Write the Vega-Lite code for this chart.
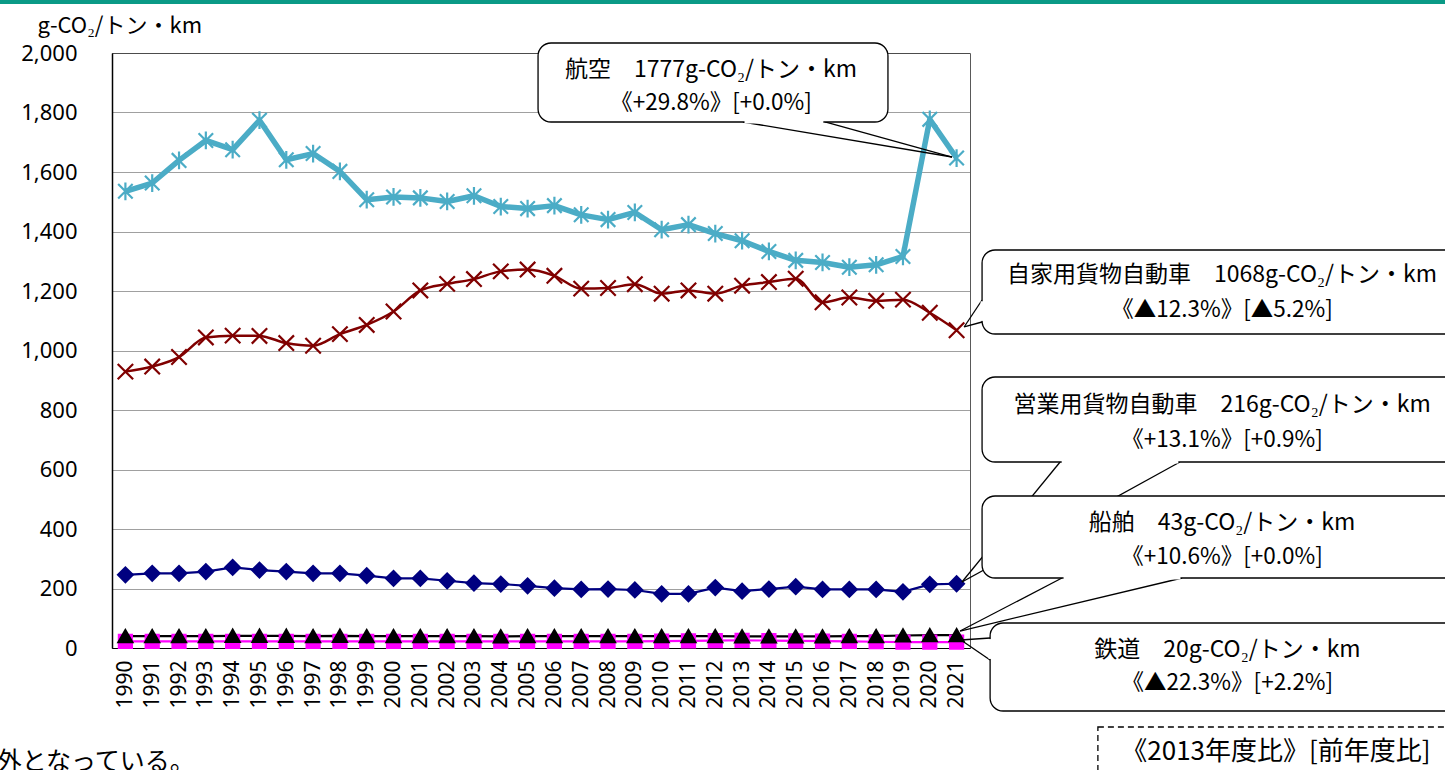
{
  "$schema": "https://vega.github.io/schema/vega-lite/v6.json",
  "width": 858,
  "height": 595,
  "autosize": {"type": "none"},
  "padding": {"left": 112, "top": 53, "right": 475, "bottom": 122},
  "background": "white",
  "config": {
    "view": {"stroke": "#595959", "strokeWidth": 1},
    "font": "Noto Sans CJK JP",
    "axisX": {"labelOverlap": false, "labelAngle": 270, "labelFontSize": 21, "labelFont": "Noto Sans", "labelColor": "black", "labelPadding": 12, "ticks": false, "grid": false, "labelBound": false, "labelFlush": false, "domainColor": "black", "domainWidth": 1.2, "tickCount": 32},
    "axisY": {"labelOverlap": false, "labelFontSize": 22, "labelFont": "Noto Sans", "labelColor": "black", "labelPadding": 35, "ticks": false, "domainColor": "black", "domainWidth": 1.5, "grid": true, "gridColor": "#404040", "gridDash": [1, 1], "gridWidth": 1}
  },
  "datasets": {
    "series": [
      {"year":1990,"mode":"鉄道","value":22},{"year":1991,"mode":"鉄道","value":22},{"year":1992,"mode":"鉄道","value":22},{"year":1993,"mode":"鉄道","value":22},{"year":1994,"mode":"鉄道","value":22},{"year":1995,"mode":"鉄道","value":22},{"year":1996,"mode":"鉄道","value":22},{"year":1997,"mode":"鉄道","value":22},{"year":1998,"mode":"鉄道","value":22},{"year":1999,"mode":"鉄道","value":22},{"year":2000,"mode":"鉄道","value":22},{"year":2001,"mode":"鉄道","value":22},{"year":2002,"mode":"鉄道","value":22},{"year":2003,"mode":"鉄道","value":22},{"year":2004,"mode":"鉄道","value":22},{"year":2005,"mode":"鉄道","value":22},{"year":2006,"mode":"鉄道","value":22},{"year":2007,"mode":"鉄道","value":22},{"year":2008,"mode":"鉄道","value":22},{"year":2009,"mode":"鉄道","value":22},{"year":2010,"mode":"鉄道","value":23},{"year":2011,"mode":"鉄道","value":24},{"year":2012,"mode":"鉄道","value":25},{"year":2013,"mode":"鉄道","value":26},{"year":2014,"mode":"鉄道","value":25},{"year":2015,"mode":"鉄道","value":24},{"year":2016,"mode":"鉄道","value":23},{"year":2017,"mode":"鉄道","value":22},{"year":2018,"mode":"鉄道","value":21},{"year":2019,"mode":"鉄道","value":20},{"year":2020,"mode":"鉄道","value":20},{"year":2021,"mode":"鉄道","value":20},
      {"year":1990,"mode":"船舶","value":40},{"year":1991,"mode":"船舶","value":40},{"year":1992,"mode":"船舶","value":40},{"year":1993,"mode":"船舶","value":40},{"year":1994,"mode":"船舶","value":41},{"year":1995,"mode":"船舶","value":41},{"year":1996,"mode":"船舶","value":41},{"year":1997,"mode":"船舶","value":40},{"year":1998,"mode":"船舶","value":41},{"year":1999,"mode":"船舶","value":40},{"year":2000,"mode":"船舶","value":40},{"year":2001,"mode":"船舶","value":40},{"year":2002,"mode":"船舶","value":40},{"year":2003,"mode":"船舶","value":40},{"year":2004,"mode":"船舶","value":39},{"year":2005,"mode":"船舶","value":40},{"year":2006,"mode":"船舶","value":40},{"year":2007,"mode":"船舶","value":40},{"year":2008,"mode":"船舶","value":40},{"year":2009,"mode":"船舶","value":40},{"year":2010,"mode":"船舶","value":40},{"year":2011,"mode":"船舶","value":40},{"year":2012,"mode":"船舶","value":40},{"year":2013,"mode":"船舶","value":39},{"year":2014,"mode":"船舶","value":39},{"year":2015,"mode":"船舶","value":39},{"year":2016,"mode":"船舶","value":39},{"year":2017,"mode":"船舶","value":40},{"year":2018,"mode":"船舶","value":40},{"year":2019,"mode":"船舶","value":42},{"year":2020,"mode":"船舶","value":43},{"year":2021,"mode":"船舶","value":43},
      {"year":1990,"mode":"営業用貨物自動車","value":246},{"year":1991,"mode":"営業用貨物自動車","value":251},{"year":1992,"mode":"営業用貨物自動車","value":251},{"year":1993,"mode":"営業用貨物自動車","value":257},{"year":1994,"mode":"営業用貨物自動車","value":271},{"year":1995,"mode":"営業用貨物自動車","value":262},{"year":1996,"mode":"営業用貨物自動車","value":257},{"year":1997,"mode":"営業用貨物自動車","value":251},{"year":1998,"mode":"営業用貨物自動車","value":251},{"year":1999,"mode":"営業用貨物自動車","value":243},{"year":2000,"mode":"営業用貨物自動車","value":234},{"year":2001,"mode":"営業用貨物自動車","value":234},{"year":2002,"mode":"営業用貨物自動車","value":226},{"year":2003,"mode":"営業用貨物自動車","value":218},{"year":2004,"mode":"営業用貨物自動車","value":215},{"year":2005,"mode":"営業用貨物自動車","value":209},{"year":2006,"mode":"営業用貨物自動車","value":201},{"year":2007,"mode":"営業用貨物自動車","value":197},{"year":2008,"mode":"営業用貨物自動車","value":198},{"year":2009,"mode":"営業用貨物自動車","value":195},{"year":2010,"mode":"営業用貨物自動車","value":182},{"year":2011,"mode":"営業用貨物自動車","value":182},{"year":2012,"mode":"営業用貨物自動車","value":203},{"year":2013,"mode":"営業用貨物自動車","value":191},{"year":2014,"mode":"営業用貨物自動車","value":198},{"year":2015,"mode":"営業用貨物自動車","value":206},{"year":2016,"mode":"営業用貨物自動車","value":197},{"year":2017,"mode":"営業用貨物自動車","value":197},{"year":2018,"mode":"営業用貨物自動車","value":197},{"year":2019,"mode":"営業用貨物自動車","value":189},{"year":2020,"mode":"営業用貨物自動車","value":214},{"year":2021,"mode":"営業用貨物自動車","value":216},
      {"year":1990,"mode":"自家用貨物自動車","value":929},{"year":1991,"mode":"自家用貨物自動車","value":946},{"year":1992,"mode":"自家用貨物自動車","value":978},{"year":1993,"mode":"自家用貨物自動車","value":1044},{"year":1994,"mode":"自家用貨物自動車","value":1050},{"year":1995,"mode":"自家用貨物自動車","value":1049},{"year":1996,"mode":"自家用貨物自動車","value":1025},{"year":1997,"mode":"自家用貨物自動車","value":1016},{"year":1998,"mode":"自家用貨物自動車","value":1055},{"year":1999,"mode":"自家用貨物自動車","value":1086},{"year":2000,"mode":"自家用貨物自動車","value":1131},{"year":2001,"mode":"自家用貨物自動車","value":1202},{"year":2002,"mode":"自家用貨物自動車","value":1224},{"year":2003,"mode":"自家用貨物自動車","value":1240},{"year":2004,"mode":"自家用貨物自動車","value":1266},{"year":2005,"mode":"自家用貨物自動車","value":1272},{"year":2006,"mode":"自家用貨物自動車","value":1251},{"year":2007,"mode":"自家用貨物自動車","value":1208},{"year":2008,"mode":"自家用貨物自動車","value":1210},{"year":2009,"mode":"自家用貨物自動車","value":1223},{"year":2010,"mode":"自家用貨物自動車","value":1191},{"year":2011,"mode":"自家用貨物自動車","value":1202},{"year":2012,"mode":"自家用貨物自動車","value":1191},{"year":2013,"mode":"自家用貨物自動車","value":1218},{"year":2014,"mode":"自家用貨物自動車","value":1230},{"year":2015,"mode":"自家用貨物自動車","value":1241},{"year":2016,"mode":"自家用貨物自動車","value":1162},{"year":2017,"mode":"自家用貨物自動車","value":1178},{"year":2018,"mode":"自家用貨物自動車","value":1167},{"year":2019,"mode":"自家用貨物自動車","value":1171},{"year":2020,"mode":"自家用貨物自動車","value":1127},{"year":2021,"mode":"自家用貨物自動車","value":1068},
      {"year":1990,"mode":"航空","value":1535},{"year":1991,"mode":"航空","value":1563},{"year":1992,"mode":"航空","value":1639},{"year":1993,"mode":"航空","value":1706},{"year":1994,"mode":"航空","value":1675},{"year":1995,"mode":"航空","value":1774},{"year":1996,"mode":"航空","value":1641},{"year":1997,"mode":"航空","value":1662},{"year":1998,"mode":"航空","value":1602},{"year":1999,"mode":"航空","value":1507},{"year":2000,"mode":"航空","value":1516},{"year":2001,"mode":"航空","value":1513},{"year":2002,"mode":"航空","value":1501},{"year":2003,"mode":"航空","value":1520},{"year":2004,"mode":"航空","value":1484},{"year":2005,"mode":"航空","value":1477},{"year":2006,"mode":"航空","value":1487},{"year":2007,"mode":"航空","value":1456},{"year":2008,"mode":"航空","value":1440},{"year":2009,"mode":"航空","value":1464},{"year":2010,"mode":"航空","value":1406},{"year":2011,"mode":"航空","value":1423},{"year":2012,"mode":"航空","value":1393},{"year":2013,"mode":"航空","value":1369},{"year":2014,"mode":"航空","value":1333},{"year":2015,"mode":"航空","value":1303},{"year":2016,"mode":"航空","value":1296},{"year":2017,"mode":"航空","value":1280},{"year":2018,"mode":"航空","value":1288},{"year":2019,"mode":"航空","value":1316},{"year":2020,"mode":"航空","value":1777},{"year":2021,"mode":"航空","value":1647}
    ],
    "decor": [{"x": 1985, "x2": 2041, "y": 2178.5, "y2": 2164.7}],
    "boxes": [
      {"x": 2005.39, "x2": 2018.44, "y": 2033.6, "y2": 1768.1},
      {"x": 2021.95, "x2": 2039.78, "y": 1337.8, "y2": 1055.5},
      {"x": 2021.95, "x2": 2039.78, "y": 910.9, "y2": 625.2},
      {"x": 2021.95, "x2": 2039.78, "y": 510.9, "y2": 235.3},
      {"x": 2022.25, "x2": 2039.78, "y": 84.0, "y2": -211.8}
    ],
    "tails": [
      {"x": 2013.03, "y": 1768.1, "x2": 2020.83, "y2": 1650.4},
      {"x": 2016.09, "y": 1768.1, "x2": 2020.83, "y2": 1650.4},
      {"x": 2021.95, "y": 1169.7, "x2": 2021.28, "y2": 1079.0},
      {"x": 2021.95, "y": 1095.8, "x2": 2021.28, "y2": 1079.0},
      {"x": 2024.86, "y": 625.2, "x2": 2021.20, "y2": 221.8},
      {"x": 2029.33, "y": 625.2, "x2": 2021.20, "y2": 221.8},
      {"x": 2024.93, "y": 235.3, "x2": 2021.13, "y2": 57.1},
      {"x": 2029.41, "y": 235.3, "x2": 2021.13, "y2": 57.1},
      {"x": 2022.25, "y": 33.6, "x2": 2021.16, "y2": 26.9},
      {"x": 2022.25, "y": -40.3, "x2": 2021.16, "y2": 26.9}
    ],
    "bases": [
      {"x": 2013.09, "y": 1768.1, "x2": 2016.03, "y2": 1768.1},
      {"x": 2021.95, "y": 1165.5, "x2": 2021.95, "y2": 1099.5},
      {"x": 2024.92, "y": 625.2, "x2": 2029.27, "y2": 625.2},
      {"x": 2024.99, "y": 235.3, "x2": 2029.35, "y2": 235.3},
      {"x": 2022.25, "y": 30.0, "x2": 2022.25, "y2": -36.8}
    ],
    "legendbox": [{"x": 2026.27, "x2": 2040, "y": -265.5, "y2": -480}],
    "labels": [
      {"x": 2011.84, "y": 1942.9, "text": "航空　1777g-CO₂/トン・km", "size": 23},
      {"x": 2011.84, "y": 1831.9, "text": "《+29.8%》[+0.0%]", "size": 22.5},
      {"x": 2030.9, "y": 1253.8, "text": "自家用貨物自動車　1068g-CO₂/トン・km", "size": 23},
      {"x": 2030.9, "y": 1136.1, "text": "《▲12.3%》[▲5.2%]", "size": 22.5},
      {"x": 2030.9, "y": 816.8, "text": "営業用貨物自動車　216g-CO₂/トン・km", "size": 23},
      {"x": 2030.9, "y": 699.2, "text": "《+13.1%》[+0.9%]", "size": 22.5},
      {"x": 2030.9, "y": 420.2, "text": "船舶　43g-CO₂/トン・km", "size": 23},
      {"x": 2030.9, "y": 305.9, "text": "《+10.6%》[+0.0%]", "size": 22.5},
      {"x": 2031.1, "y": -6.7, "text": "鉄道　20g-CO₂/トン・km", "size": 23},
      {"x": 2031.1, "y": -117.6, "text": "《▲22.3%》[+2.2%]", "size": 22.5},
      {"x": 2032.91, "y": -349.6, "text": "《2013年度比》[前年度比]", "size": 26}
    ],
    "note": [{"x": 1985.2, "y": -383, "text": "外となっている。"}]
  },
  "layer": [
    {
      "data": {"name": "series"},
      "transform": [{"filter": "datum.mode == '鉄道' || datum.mode == '船舶' || datum.mode == '営業用貨物自動車'"}],
      "mark": {"type": "line", "strokeWidth": 2.2},
      "encoding": {
        "x": {"field": "year", "type": "quantitative", "scale": {"domain": [1989.5, 2021.5], "nice": false, "zero": false},
          "axis": {"values": [1990,1991,1992,1993,1994,1995,1996,1997,1998,1999,2000,2001,2002,2003,2004,2005,2006,2007,2008,2009,2010,2011,2012,2013,2014,2015,2016,2017,2018,2019,2020,2021],
            "tickCount": 32, "labelExpr": "format(datum.value, 'd')", "labelOverlap": false, "title": null}},
        "y": {"field": "value", "type": "quantitative", "scale": {"domain": [0, 2000], "nice": false},
          "axis": {"values": [0,200,400,600,800,1000,1200,1400,1600,1800,2000], "labelExpr": "format(datum.value, ',d')",
            "title": "g-CO₂/トン・km", "titleAngle": 0, "titleAlign": "left", "titleBaseline": "alphabetic", "titleX": -75, "titleY": -21, "titleFontSize": 22, "titleFontWeight": "normal", "titleColor": "black", "titleFont": "Noto Sans CJK JP"}},
        "color": {"field": "mode", "type": "nominal", "legend": null,
          "scale": {"domain": ["鉄道", "船舶", "営業用貨物自動車", "自家用貨物自動車", "航空"], "range": ["#ff00ff", "#000000", "#000080", "#800000", "#4bacc6"]}}
      }
    },
    {
      "data": {"name": "series"},
      "transform": [{"filter": "datum.mode == '自家用貨物自動車'"}],
      "mark": {"type": "line", "interpolate": "monotone", "color": "#800000", "strokeWidth": 2.5},
      "encoding": {
        "x": {"field": "year", "type": "quantitative"},
        "y": {"field": "value", "type": "quantitative"}
      }
    },
    {
      "data": {"name": "series"},
      "transform": [{"filter": "datum.mode == '航空'"}],
      "mark": {"type": "line", "color": "#4bacc6", "strokeWidth": 5.5, "strokeJoin": "round"},
      "encoding": {
        "x": {"field": "year", "type": "quantitative"},
        "y": {"field": "value", "type": "quantitative"}
      }
    },
    {
      "data": {"name": "series"},
      "mark": {"type": "point", "filled": true, "strokeWidth": 2.2, "opacity": 1},
      "encoding": {
        "x": {"field": "year", "type": "quantitative"},
        "y": {"field": "value", "type": "quantitative"},
        "fill": {"field": "mode", "type": "nominal", "legend": null,
          "scale": {"domain": ["鉄道", "船舶", "営業用貨物自動車", "自家用貨物自動車", "航空"], "range": ["#ff00ff", "#000000", "#000080", "#800000", "#4bacc6"]}},
        "stroke": {"field": "mode", "type": "nominal", "legend": null,
          "scale": {"domain": ["鉄道", "船舶", "営業用貨物自動車", "自家用貨物自動車", "航空"], "range": ["#ff00ff", "#000000", "#000080", "#800000", "#4bacc6"]}},
        "shape": {"field": "mode", "type": "nominal", "legend": null,
          "scale": {"domain": ["鉄道", "船舶", "営業用貨物自動車", "自家用貨物自動車", "航空"],
            "range": ["square", "triangle-up", "diamond", "M-1,-1L1,1M-1,1L1,-1", "M0,-1.1L0,1.1M-0.9,-0.9L0.9,0.9M-0.9,0.9L0.9,-0.9"]}},
        "size": {"field": "mode", "type": "nominal", "legend": null,
          "scale": {"domain": ["鉄道", "船舶", "営業用貨物自動車", "自家用貨物自動車", "航空"], "range": [170, 260, 250, 300, 330]}}
      }
    },
    {
      "data": {"name": "decor"},
      "mark": {"type": "rect", "color": "#0a9a86"},
      "encoding": {
        "x": {"field": "x", "type": "quantitative"},
        "x2": {"field": "x2"},
        "y": {"field": "y", "type": "quantitative"},
        "y2": {"field": "y2"}
      }
    },
    {
      "data": {"name": "tails"},
      "mark": {"type": "rule", "color": "black", "strokeWidth": 1.3},
      "encoding": {
        "x": {"field": "x", "type": "quantitative"},
        "y": {"field": "y", "type": "quantitative"},
        "x2": {"field": "x2"},
        "y2": {"field": "y2"}
      }
    },
    {
      "data": {"name": "boxes"},
      "mark": {"type": "rect", "fill": "white", "stroke": "black", "strokeWidth": 1.3, "cornerRadius": 13},
      "encoding": {
        "x": {"field": "x", "type": "quantitative"},
        "x2": {"field": "x2"},
        "y": {"field": "y", "type": "quantitative"},
        "y2": {"field": "y2"}
      }
    },
    {
      "data": {"name": "bases"},
      "mark": {"type": "rule", "color": "white", "strokeWidth": 3},
      "encoding": {
        "x": {"field": "x", "type": "quantitative"},
        "y": {"field": "y", "type": "quantitative"},
        "x2": {"field": "x2"},
        "y2": {"field": "y2"}
      }
    },
    {
      "data": {"name": "legendbox"},
      "mark": {"type": "rect", "fill": "white", "stroke": "black", "strokeWidth": 1.3, "strokeDash": [6, 4]},
      "encoding": {
        "x": {"field": "x", "type": "quantitative"},
        "x2": {"field": "x2"},
        "y": {"field": "y", "type": "quantitative"},
        "y2": {"field": "y2"}
      }
    },
    {
      "data": {"name": "labels"},
      "mark": {"type": "text", "align": "center", "baseline": "middle", "color": "black", "font": "Noto Sans CJK JP"},
      "encoding": {
        "x": {"field": "x", "type": "quantitative"},
        "y": {"field": "y", "type": "quantitative"},
        "text": {"field": "text", "type": "nominal"},
        "size": {"field": "size", "type": "quantitative", "scale": null}
      }
    },
    {
      "data": {"name": "note"},
      "mark": {"type": "text", "align": "left", "baseline": "middle", "color": "black", "fontSize": 25, "font": "Noto Sans CJK JP"},
      "encoding": {
        "x": {"field": "x", "type": "quantitative"},
        "y": {"field": "y", "type": "quantitative"},
        "text": {"field": "text", "type": "nominal"}
      }
    }
  ]
}
